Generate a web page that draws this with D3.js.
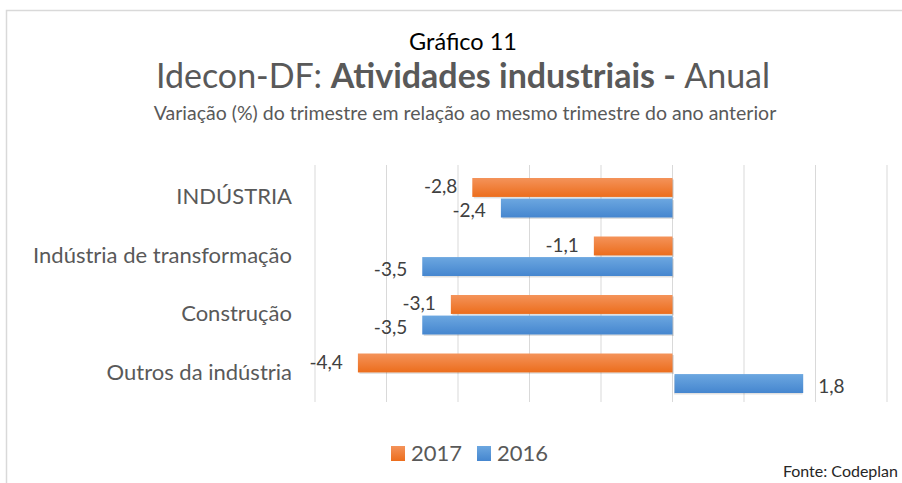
<!DOCTYPE html>
<html>
<head>
<meta charset="utf-8">
<script src="https://cdn.jsdelivr.net/npm/d3@7"></script>
<style>
  body { margin: 0; background: #fff; }
  svg text { font-family: Lato, "Open Sans", sans-serif; }
</style>
</head>
<body>
<svg id="chart" width="902" height="483"></svg>
<script>
var categories = ["INDÚSTRIA", "Indústria de transformação", "Construção ", "Outros da indústria"];
var series = ["2017", "2016"];
var values2017 = [-2.8, -1.1, -3.1, -4.4];
var values2016 = [-2.4, -3.5, -3.5, 1.8];
var xTicks = [-5, -4, -3, -2, -1, 0, 1, 2, 3];

var width = 902, height = 483
  , plot = {left: 315, right: 887, top: 168, bottom: 402};

var svg = d3.select("#chart");

var defs = svg.append("defs");
function grad(id, c1, c2) {
  var g = defs.append("linearGradient").attr("id", id)
      .attr("x1", 0).attr("y1", 0).attr("x2", 0).attr("y2", 1);
  g.append("stop").attr("offset", "0%").attr("stop-color", c1);
  g.append("stop").attr("offset", "100%").attr("stop-color", c2);
}
grad("g2017", "#f4935a", "#ec6d1c");
grad("g2016", "#6ca7e0", "#4586cf");
var colors = {"2017": "url(#g2017)", "2016": "url(#g2016)"};

// outer frame
svg.append("path")
    .attr("d", "M6.5,483 V10.5 H902")
    .attr("fill", "none").attr("stroke", "#d9d9d9").attr("stroke-width", 1.5);

// titles
svg.append("text").attr("x", 463).attr("y", 50).attr("text-anchor", "middle")
    .style("font-size", "23.5px").style("fill", "#000").text("Gráfico 11");

var t = svg.append("text").attr("x", 463).attr("y", 88).attr("text-anchor", "middle")
    .style("font-size", "34px").style("fill", "#595959");
t.append("tspan").text("Idecon-DF: ");
t.append("tspan").style("font-weight", "bold").text("Atividades industriais - ");
t.append("tspan").text("Anual");

svg.append("text").attr("x", 465).attr("y", 120).attr("text-anchor", "middle")
    .style("font-size", "19.5px").style("fill", "#595959")
    .text("Variação (%) do trimestre em relação ao mesmo trimestre do ano anterior");

var x = d3.scaleLinear().domain([-5, 3]).range([plot.left, plot.right]);
var y = d3.scaleBand().domain(categories).range([plot.top, plot.bottom]);
var ySub = d3.scaleBand().domain(series).range([10, y.bandwidth() - 9]).paddingInner(0.08);

// gridlines
svg.append("g").selectAll("line")
    .data(xTicks)
  .enter().append("line")
    .attr("x1", function(d) { return x(d); })
    .attr("x2", function(d) { return x(d); })
    .attr("y1", plot.top - 3)
    .attr("y2", plot.bottom)
    .attr("stroke", "#d9d9d9").attr("stroke-width", 1);

// category labels
svg.append("g").selectAll("text")
    .data(categories)
  .enter().append("text")
    .attr("x", 292)
    .attr("y", function(d) { return y(d) + y.bandwidth() / 2 + 7; })
    .attr("text-anchor", "end")
    .style("font-size", "22px").style("fill", "#595959")
    .text(function(d) { return d; });

var rows = [];
categories.forEach(function(c, i) {
  rows.push({cat: c, s: "2017", v: values2017[i]});
  rows.push({cat: c, s: "2016", v: values2016[i]});
});

var bars = svg.append("g");
bars.selectAll("rect.shadow")
    .data(rows)
  .enter().append("rect")
    .attr("x", function(d) { return Math.min(x(d.v), x(0)) + 1.5; })
    .attr("y", function(d) { return y(d.cat) + ySub(d.s) + 1.5; })
    .attr("width", function(d) { return Math.abs(x(d.v) - x(0)); })
    .attr("height", ySub.bandwidth())
    .attr("fill", "#000").attr("opacity", 0.12);

bars.selectAll("rect.bar")
    .data(rows)
  .enter().append("rect")
    .attr("class", "bar")
    .attr("x", function(d) { return d.v < 0 ? x(d.v) : x(0) + 2; })
    .attr("y", function(d) { return y(d.cat) + ySub(d.s); })
    .attr("width", function(d) { return Math.abs(x(d.v) - x(0)); })
    .attr("height", ySub.bandwidth())
    .attr("fill", function(d) { return colors[d.s]; });

var fmt = function(v) { return String(v.toFixed(1)).replace(".", ","); };
bars.selectAll("text")
    .data(rows)
  .enter().append("text")
    .attr("x", function(d) { return d.v < 0 ? x(d.v) - 15 : x(d.v) + 17; })
    .attr("y", function(d) { return y(d.cat) + ySub(d.s) + ySub.bandwidth() / 2 + (d.s == "2016" ? 9 : 6); })
    .attr("text-anchor", function(d) { return d.v < 0 ? "end" : "start"; })
    .style("font-size", "19px").style("fill", "#404040")
    .text(function(d) { return fmt(d.v); });

// legend
var legend = svg.append("g");
var lx = [391, 477];
series.forEach(function(s, i) {
  legend.append("rect").attr("x", lx[i]).attr("y", 446).attr("width", 14).attr("height", 15)
      .attr("fill", colors[s]);
  legend.append("text").attr("x", lx[i] + 20).attr("y", 461)
      .style("font-size", "22px").style("fill", "#595959").text(s);
});

svg.append("text").attr("x", 898).attr("y", 477).attr("text-anchor", "end")
    .style("font-size", "16px").style("fill", "#262626").text("Fonte: Codeplan");
</script>
</body>
</html>
